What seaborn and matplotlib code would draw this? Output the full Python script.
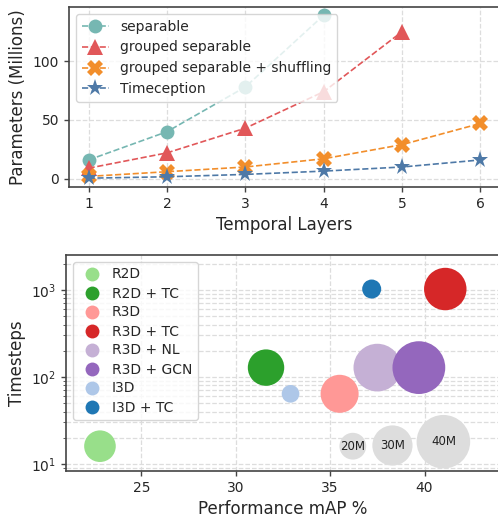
import numpy as np
import pandas as pd
import matplotlib
matplotlib.use("Agg")
import matplotlib.pyplot as plt
from matplotlib.lines import Line2D
import seaborn as sns

# top panel: parameters vs temporal layers
LAYERS = [1, 2, 3, 4, 5, 6]
SEPARABLE = [16, 40, 78, 139]
GROUPED = [9, 22, 43, 74, 125]
GROUPED_SHUFFLE = [2, 6, 10, 17, 29, 47]
TIMECEPTION = [0.5, 1.7, 3.7, 6.5, 10, 16]

# bottom panel: mAP vs timesteps, bubble = params (millions)
MODELS = ['R2D', 'R2D + TC', 'R3D', 'R3D + TC', 'R3D + NL', 'R3D + GCN', 'I3D', 'I3D + TC']
MAP = [22.8, 31.6, 35.5, 41.1, 37.5, 39.7, 32.9, 37.2]
TIMESTEPS = [16, 128, 64, 1024, 128, 128, 64, 1024]
PARAMS = [23.6, 27.2, 28.4, 31.7, 35.6, 39.4, 13.2, 14.2]
MODEL_COLORS = ['#98df8a', '#2ca02c', '#ff9896', '#d62728', '#c5b0d5', '#9467bd', '#aec7e8', '#1f77b4']

SIZE_LABELS = ['20M', '30M', '40M']
SIZE_PARAMS = [20, 30, 40]
SIZE_X = [36.2, 38.3, 41.0]
SIZE_Y = [16, 16.3, 18]


def style_axes(ax):
    for side in ['left', 'bottom', 'top', 'right']:
        ax.spines[side].set_color('#444444')
        ax.spines[side].set_linewidth(1.2)
    ax.tick_params(direction='out', length=3.5, width=1, color='#444444', labelsize=10)
    ax.grid(True, which='major', linestyle='--', color='#dddddd', linewidth=0.9)


sns.set_style("ticks")
plt.rcParams['font.family'] = ['DejaVu Sans']

fig = plt.figure(figsize=(4.98, 5.21), dpi=100)
ax1 = fig.add_axes([69 / 498, 1 - 187 / 521, 431 / 498, 180 / 521])
ax2 = fig.add_axes([66 / 498, 1 - 471 / 521, 434 / 498, 216 / 521])

series = [
    ('separable', SEPARABLE, '#76b7b2', 'o', 10),
    ('grouped separable', GROUPED, '#e15759', '^', 12),
    ('grouped separable + shuffling', GROUPED_SHUFFLE, '#f28e2b', 'X', 11),
    ('Timeception', TIMECEPTION, '#4e79a7', '*', 12.5),
]
for name, vals, color, marker, ms in series:
    sns.lineplot(x=LAYERS[:len(vals)], y=vals, ax=ax1, color=color, marker=marker,
                 markersize=ms, markeredgewidth=0, linestyle='--', linewidth=1.2, label=name)

style_axes(ax1)
ax1.set_xlim(0.75, 6.25)
ax1.set_ylim(-7, 146)
ax1.set_xticks(LAYERS)
ax1.set_yticks([0, 50, 100])
ax1.set_xlabel('Temporal Layers', fontsize=12)
ax1.set_ylabel('Parameters (Millions)', fontsize=12)
ax1.legend(loc='upper left', fontsize=10, framealpha=0.8, edgecolor='#cccccc')

df = pd.DataFrame({'model': MODELS, 'map': MAP, 'timesteps': TIMESTEPS, 'params': PARAMS})
area = lambda m: 0.93 * m ** 2
sns.scatterplot(data=df, x='map', y='timesteps', hue='model', palette=MODEL_COLORS,
                size='params', sizes={p: area(p) for p in PARAMS},
                linewidth=0, alpha=1, legend=False, ax=ax2, zorder=3)

size_df = pd.DataFrame({'x': SIZE_X, 'y': SIZE_Y, 'params': SIZE_PARAMS})
sns.scatterplot(data=size_df, x='x', y='y', size='params',
                sizes={p: area(p) for p in SIZE_PARAMS}, color='#dddddd',
                linewidth=0, alpha=1, legend=False, ax=ax2, zorder=3)
for label, x, y in zip(SIZE_LABELS, SIZE_X, SIZE_Y):
    ax2.text(x, y, label, ha='center', va='center', fontsize=8.5, color='#222222', zorder=4)

ax2.set_yscale('log')
style_axes(ax2)
ax2.grid(True, which='minor', axis='y', linestyle='--', color='#dddddd', linewidth=0.9)
ax2.tick_params(which='minor', direction='out', length=2, color='#444444')
ax2.set_xlim(21, 44)
ax2.set_ylim(8.3, 2520)
ax2.set_xticks([25, 30, 35, 40])
ax2.set_xlabel('Performance mAP %', fontsize=12)
ax2.set_ylabel('Timesteps', fontsize=12)

handles = [Line2D([], [], linestyle='', marker='o', markersize=10, markeredgewidth=0,
                  color=c) for c in MODEL_COLORS]
ax2.legend(handles, MODELS, loc='upper left', fontsize=10, framealpha=0.8, edgecolor='#cccccc',
           handletextpad=0.4, labelspacing=0.36)

fig.savefig('out.png', dpi=100)
